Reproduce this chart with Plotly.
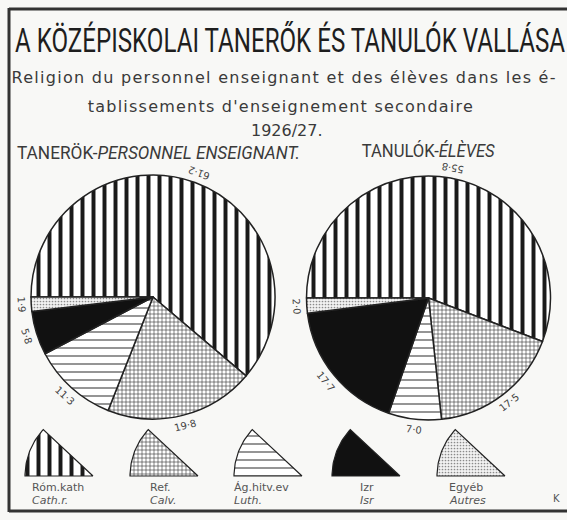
import json
import numpy as np
import plotly.graph_objects as go

W, H = 567, 520

religions_hu = ["Róm.kath", "Ref.", "Ág.hitv.ev", "Izr", "Egyéb"]
religions_fr = ["Cath.r.", "Calv.", "Luth.", "Isr", "Autres"]
teachers = [61.2, 19.8, 11.3, 5.8, 1.9]
students = [55.8, 17.5, 7.0, 17.7, 2.0]

title = "A KÖZÉPISKOLAI TANERŐK ÉS TANULÓK VALLÁSA"
sub1 = "Religion du personnel enseignant et des élèves dans les é-"
sub2 = "tablissements d'enseignement secondaire"
year = "1926/27."
head_left = "TANERÖK-<i>PERSONNEL ENSEIGNANT.</i>"
head_right = "TANULÓK-<i>ÉLÈVES</i>"

# styles
shapes_ = ["|", "+", "-", "", "."]
fg = ["#1a1a1a", "#333333", "#333333", "#111111", "#8a8a8a"]
bg = ["#ffffff", "#ffffff", "#ffffff", "#111111", "#f2f2f2"]
psize = [11, 4, 8, 8, 3]
psol = [0.36, 0.28, 0.13, 0.3, 0.25]

# pie geometry (pixels)
pies = [(teachers, 153, 297, 122), (students, 428.5, 298, 122)]
ROT = 270

TXT = "#3a3a3a"
HEAD = "Roboto, Liberation Sans, sans-serif"
SANS = "DejaVu Sans, Open Sans, sans-serif"

fig = go.Figure()

# hidden pixel-space axes for decorations
fig.update_xaxes(range=[0, W], visible=False, fixedrange=True)
fig.update_yaxes(range=[H, 0], visible=False, fixedrange=True)

annotations = []
for vals, cx, cy, r in pies:
    fig.add_trace(go.Pie(
        values=vals, labels=religions_hu, sort=False, direction="clockwise",
        rotation=ROT, textinfo="none", hoverinfo="label+value",
        showlegend=False,
        domain=dict(x=[(cx - r) / W, (cx + r) / W],
                    y=[1 - (cy + r) / H, 1 - (cy - r) / H]),
        marker=dict(colors=bg, line=dict(color="#222", width=1.5),
                    pattern=dict(shape=shapes_, fgcolor=fg, bgcolor=bg,
                                 size=psize, solidity=psol, fillmode="replace")),
    ))
    tot = sum(vals)
    cum = 0.0
    for v in vals:
        mid = ROT + (cum + v / 2) / tot * 360
        cum += v
        th = np.deg2rad(mid)
        rl = r + 10
        x = cx + rl * np.sin(th)
        y = cy - rl * np.cos(th)
        ang = (mid + 180) % 360
        if ang > 180:
            ang -= 360
        annotations.append(dict(x=x, y=y, xref="x", yref="y", showarrow=False,
                                text=f"{v:.1f}".replace(".", "·"),
                                textangle=ang,
                                font=dict(family=SANS, size=10, color="#444")))

# legend wedges
leg_x = [93, 198, 302, 400, 505]
leg_y = 476
R = 68
t = np.deg2rad(np.linspace(137, 180, 30))
for i, ax in enumerate(leg_x):
    xs = [ax] + list(ax + R * np.cos(t)) + [ax]
    ys = [leg_y] + list(leg_y - R * np.sin(t)) + [leg_y]
    fp = dict(shape=shapes_[i], fgcolor=fg[i], bgcolor=bg[i],
              size=psize[i], solidity=psol[i], fillmode="replace") if shapes_[i] else None
    fig.add_trace(go.Scatter(
        x=xs, y=ys, mode="lines", fill="toself", fillcolor=bg[i],
        fillpattern=fp, line=dict(color="#222", width=1.2),
        showlegend=False, hoverinfo="skip"))

leg_tx = [30, 148, 232, 358, 447]
for i, lx in enumerate(leg_tx):
    annotations.append(dict(x=lx, y=487, xref="x", yref="y", xanchor="left",
                            showarrow=False, text=religions_hu[i],
                            font=dict(family=SANS, size=11, color="#555")))
    annotations.append(dict(x=lx, y=500, xref="x", yref="y", xanchor="left",
                            showarrow=False, text=f"<i>{religions_fr[i]}</i>",
                            font=dict(family=SANS, size=11, color="#555")))

# titles
annotations += [
    dict(x=290, y=40, xref="x", yref="y", showarrow=False, width=552,
         text=title, font=dict(family=HEAD, size=34, color="#1e1e1e")),
    dict(x=283, y=77, xref="x", yref="y", showarrow=False, text=sub1,
         font=dict(family=SANS, size=16, color=TXT)),
    dict(x=280, y=106, xref="x", yref="y", showarrow=False, text=sub2,
         font=dict(family=SANS, size=16, color=TXT)),
    dict(x=287, y=130, xref="x", yref="y", showarrow=False, text=year,
         font=dict(family=SANS, size=16, color=TXT)),
    dict(x=158.5, y=152, xref="x", yref="y", showarrow=False, width=285,
         text=head_left, font=dict(family=HEAD, size=18, color=TXT)),
    dict(x=428.5, y=150, xref="x", yref="y", showarrow=False, width=135,
         height=21, text=head_right, font=dict(family=HEAD, size=18, color=TXT)),
    dict(x=556, y=498, xref="x", yref="y", showarrow=False, text="K",
         font=dict(family=SANS, size=10, color="#555")),
]

border = [
    dict(type="line", xref="x", yref="y", x0=9, y0=9, x1=W, y1=9,
         line=dict(color="#333", width=3)),
    dict(type="line", xref="x", yref="y", x0=9, y0=8, x1=9, y1=512,
         line=dict(color="#333", width=3)),
    dict(type="line", xref="x", yref="y", x0=9, y0=511, x1=W, y1=511,
         line=dict(color="#333", width=3)),
]

fig.update_layout(width=W, height=H, margin=dict(l=0, r=0, t=0, b=0),
                  paper_bgcolor="#f8f8f6", plot_bgcolor="rgba(0,0,0,0)",
                  annotations=annotations, shapes=border, showlegend=False)

# fit the lettered headings to the widths they occupy in the original
fit = [["A K", 550, "spacingAndGlyphs"], ["Religion", 544, "spacing"],
       ["tabliss", 385, "spacing"], ["TANE", 283, "spacingAndGlyphs"],
       ["TANU", 133, "spacingAndGlyphs"]]
post = ("document.body.style.margin='0';"
        "var fit=" + json.dumps(fit) + ";"
        "document.querySelectorAll('text.annotation-text').forEach(function(t){"
        "var s=t.textContent||'';fit.forEach(function(f){"
        "if(s.indexOf(f[0])===0){t.setAttribute('textLength',f[1]);"
        "t.setAttribute('lengthAdjust',f[2]);}});});")

fig.write_html("out.html", post_script=post, config={"displayModeBar": False})
